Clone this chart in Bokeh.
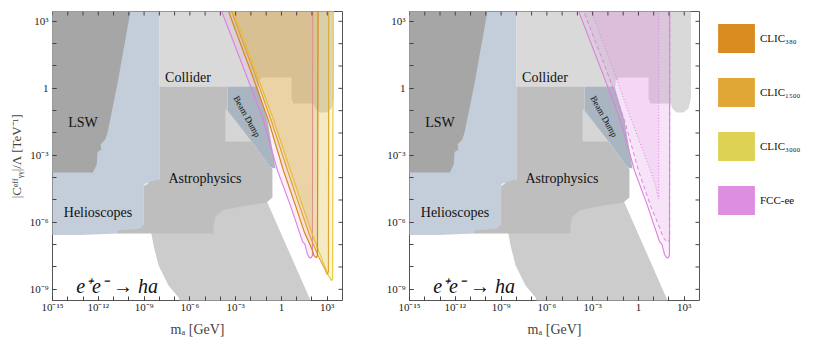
import numpy as np
from bokeh.plotting import figure
from bokeh.layouts import row
from bokeh.models import (Range1d, FixedTicker, CustomJSTickFormatter,
                          Legend, LegendItem)
from bokeh.core.properties import value
from bokeh.embed import file_html
from bokeh.resources import INLINE

# ---------------- data (log10 of m_a [GeV], log10 of |C|/Lambda [TeV^-1]) -------------
LSW_X = [-16, -9.75, -10.74, -11.40, -11.55, -11.85, -11.80, -12.05, -12.10, -12.35, -16]
LSW_Y = [4, 4, 0.22, -2.00, -2.30, -2.50, -2.75, -2.85, -3.40, -3.77, -3.77]

HELIO_X = [-16, -7.99, -7.99, -8.91, -9.04, -9.04, -9.37, -10.74, -13.17, -16]
HELIO_Y = [4, 4, -4.13, -4.26, -4.40, -6.19, -6.40, -6.50, -6.57, -6.57]

COLLIDER_X = [-7.99, 3.44, 3.44, 3.28, 2.95, 2.49, 2.23, 2.10, 0.79, 0.66, 0.66, -1.24, -1.50, -1.50, -7.99]
COLLIDER_Y = [4, 4, -0.46, -0.90, -1.08, -1.08, -0.90, -0.68, -0.68, -0.46, 0.48, 0.48, 0.35, 0.08, 0.08]

ASTRO_X = [-7.99, -3.53, -3.53, -1.90, -0.72, -0.59, -0.59, -0.98, -2.68, -3.86, -4.32, -4.45, -4.45,
           -10.74, -10.74, -9.23, -9.04, -9.04, -8.58, -7.99]
ASTRO_Y = [0.08, 0.08, -0.99, -2.43, -3.55, -3.59, -4.89, -5.11, -5.29, -5.47, -5.74, -6.14, -6.50,
           -6.50, -6.37, -6.28, -6.10, -4.40, -4.17, -4.08]

LOWER_X = [-8.58, -8.38, -8.05, -7.40, -6.74, -6.42, 2.23, -0.98, -4.32]
LOWER_Y = [-6.28, -7.04, -7.93, -8.83, -9.37, -10, -10, -5.02, -5.47]

BEAM_X = [-3.53, -1.57, -0.91, -0.39, -0.72, -1.90, -3.53]
BEAM_Y = [0.08, 0.08, -1.44, -3.59, -3.55, -2.43, -0.99]

TRI_X = [-3.67, -1.90, -3.67]
TRI_Y = [-0.90, -2.38, -2.38]

FCC_X = [-4.19, -2.42, -1.18, -0.26, 0.59, 1.25, 1.38, 1.54, 1.64, 1.71, 1.84, 1.94, 2.03, 2.05]
FCC_Y = [3.93, 0.80, -1.44, -3.68, -5.25, -6.59, -6.86, -6.99, -7.26, -7.44, -7.58, -7.60, -7.49, 3.93]

FCC_DASH_X = [-3.86, -2.09, -0.91, 0.00, 0.79, 1.25, 1.58, 1.71, 1.97, 2.05, 2.05]
FCC_DASH_Y = [3.93, 0.80, -1.44, -3.68, -5.25, -6.01, -6.59, -6.77, -6.88, -6.73, 3.93]

FCC_DOT_X = [-3.34, -1.63, -0.45, 0.79, 1.12, 1.25, 1.33, 1.33]
FCC_DOT_Y = [3.93, 0.80, -1.44, -3.68, -4.35, -4.80, -4.95, 3.93]

CLIC380_X = [-3.73, -2.03, -0.85, 0.13, 0.92, 1.51, 1.84, 2.03, 2.13, 2.28, 2.36, 2.40]
CLIC380_Y = [3.93, 0.80, -1.44, -3.68, -5.25, -6.46, -6.95, -7.26, -7.49, -7.58, -7.49, 3.93]

CLIC1500_X = [-3.53, -1.83, -0.67, 0.40, 1.18, 1.90, 2.43, 2.69, 2.89, 3.00, 3.08, 3.10]
CLIC1500_Y = [3.93, 0.80, -1.44, -3.68, -5.25, -6.68, -7.53, -7.89, -8.16, -8.34, -8.20, 3.93]

CLIC3000_X = [-3.40, -1.70, -0.50, 0.59, 1.38, 2.10, 2.56, 2.89, 3.08, 3.28, 3.35, 3.39]
CLIC3000_Y = [3.93, 0.80, -1.44, -3.68, -5.25, -6.68, -7.49, -8.07, -8.38, -8.61, -8.52, 3.93]

LABEL_TEXT = ["LSW", "Collider", "Beam Dump", "Astrophysics", "Helioscopes", "e\u207ae\u207b \u2192 ha"]
LABEL_X = [-13.0, -6.12, -2.26, -5.01, -12.02, -10.77]
LABEL_Y = [-1.53, 0.48, -1.26, -4.04, -5.58, -8.83]
LABEL_SIZE = ["14px", "14px", "9px", "14px", "14px", "20px"]
LABEL_ANGLE = [0, 0, -1.06, 0, 0, 0]
LABEL_STYLE = ["normal", "normal", "normal", "normal", "normal", "italic"]

LEGEND_NAMES = ["CLIC\u2083\u2088\u2080", "CLIC\u2081\u2085\u2080\u2080", "CLIC\u2083\u2080\u2080\u2080", "FCC-ee"]
LEGEND_COLORS = ["#DA8B20", "#E0A636", "#DDD254", "#DE8EE1"]

X_MAJOR = [1e-15, 1e-12, 1e-9, 1e-6, 1e-3, 1.0, 1e3]
X_MINOR = [10.0 ** k for k in range(-15, 4)]
Y_MAJOR = [1e-9, 1e-6, 1e-3, 1.0, 1e3]
Y_MINOR = [10.0 ** k for k in range(-9, 4)]
X_LIM = (1e-15, 1e4)
Y_LIM = (10 ** -9.5, 10 ** 3.44)

SERIF = "Liberation Serif"
FRAME_W, FRAME_H = 290, 289
TICK_PX = 4
TICK_COLOR = "#444444"

FMT = r"""
const e = Math.round(Math.log10(tick));
if (e === 0) { return "1"; }
const sup = {"-": "\u207b", "0": "\u2070", "1": "\u00b9", "2": "\u00b2", "3": "\u00b3",
             "4": "\u2074", "5": "\u2075", "6": "\u2076", "7": "\u2077", "8": "\u2078", "9": "\u2079"};
return "10" + String(e).split("").map(c => sup[c]).join("");
"""


def L(a):
    return list(10.0 ** np.array(a, dtype=float))


def style_axis(ax):
    ax.major_tick_in = TICK_PX
    ax.major_tick_out = 0
    ax.minor_tick_in = TICK_PX
    ax.minor_tick_out = 0
    ax.axis_line_color = None
    ax.major_tick_line_color = TICK_COLOR
    ax.minor_tick_line_color = TICK_COLOR
    ax.major_label_text_font = SERIF
    ax.major_label_text_font_size = "11px"
    ax.major_label_text_color = "#222222"


def make_panel(width, border_right, with_ylabel, kind):
    p = figure(width=width, height=342, x_axis_type="log", y_axis_type="log",
               x_range=Range1d(*X_LIM), y_range=Range1d(*Y_LIM),
               output_backend="svg", toolbar_location=None,
               min_border_left=52, min_border_right=border_right,
               min_border_top=11, min_border_bottom=42)
    p.title_location = None
    p.grid.visible = False
    p.outline_line_color = "#555555"
    p.outline_line_width = 1
    p.background_fill_color = "white"
    p.border_fill_color = "white"

    xa = p.xaxis[0]
    ya = p.yaxis[0]
    xa.ticker = FixedTicker(ticks=X_MAJOR, minor_ticks=X_MINOR)
    ya.ticker = FixedTicker(ticks=Y_MAJOR, minor_ticks=Y_MINOR)
    xa.formatter = CustomJSTickFormatter(code=FMT)
    ya.formatter = CustomJSTickFormatter(code=FMT)
    style_axis(xa)
    style_axis(ya)
    xa.major_label_standoff = 0
    ya.major_label_standoff = 4
    xa.axis_label = "m\u2090 [GeV]"
    xa.axis_label_text_font = SERIF
    xa.axis_label_text_font_size = "14px"
    xa.axis_label_text_font_style = "normal"
    xa.axis_label_standoff = 6
    if with_ylabel:
        ya.axis_label = "|C\u1d49\u1da0\u1da0\u1d67\u1d67|/\u039b [TeV\u207b\u00b9]"
        ya.axis_label_text_font = SERIF
        ya.axis_label_text_font_size = "13px"
        ya.axis_label_text_font_style = "normal"
        ya.axis_label_standoff = 3

    regions = [
        (LOWER_X, LOWER_Y, "#CCCCCC"),
        (HELIO_X, HELIO_Y, "#C3CEDA"),
        (LSW_X, LSW_Y, "#A6A6A6"),
        (COLLIDER_X, COLLIDER_Y, "#D9D9D9"),
        (ASTRO_X, ASTRO_Y, "#BEBEBE"),
        (TRI_X, TRI_Y, "#D5D5D5"),
        (BEAM_X, BEAM_Y, "#A9B5C0"),
    ]
    for xs, ys, c in regions:
        p.patch(L(xs), L(ys), fill_color=c, line_color=None)

    for t, x, y, s, a, st in zip(LABEL_TEXT, LABEL_X, LABEL_Y, LABEL_SIZE, LABEL_ANGLE, LABEL_STYLE):
        p.text(x=[10.0 ** x], y=[10.0 ** y], text=[t], angle=a,
               text_font=value(SERIF), text_font_size=value(s), text_font_style=st,
               text_align="center", text_baseline="middle", text_color="#111111")

    p.patch(L(FCC_X), L(FCC_Y), fill_color="#DE8EE0", fill_alpha=0.13,
            line_color="#DD80DE", line_width=1.1)
    if kind == "clic":
        bands = [
            (CLIC3000_X, CLIC3000_Y, "#DDD152", "#E6CE40", 0.2),
            (CLIC1500_X, CLIC1500_Y, "#E0A535", "#E2A535", 0.15),
            (CLIC380_X, CLIC380_Y, "#D98C1E", "#DA8715", 0.15),
        ]
        for xs, ys, fc, lc, fa in bands:
            p.patch(L(xs), L(ys), fill_color=fc, fill_alpha=fa, line_color=lc, line_width=1.2)
    else:
        p.patch(L(FCC_DASH_X), L(FCC_DASH_Y), fill_color="#DE8EE0", fill_alpha=0.13,
                line_color="#DD80DE", line_width=1.0, line_dash="4 3")
        p.patch(L(FCC_DOT_X), L(FCC_DOT_Y), fill_color="#DE8EE0", fill_alpha=0.13,
                line_color="#DD80DE", line_width=1.0, line_dash="1 2")

    # mirrored tick marks on the top and right edges of the frame (same tick values as the axes)
    dec_y = np.log10(Y_LIM[1] / Y_LIM[0]) / FRAME_H * TICK_PX
    dec_x = np.log10(X_LIM[1] / X_LIM[0]) / FRAME_W * TICK_PX
    p.segment(x0=X_MINOR, y0=[Y_LIM[1]] * len(X_MINOR), x1=X_MINOR,
              y1=[Y_LIM[1] / 10 ** dec_y] * len(X_MINOR), line_color=TICK_COLOR, line_width=1)
    p.segment(x0=[X_LIM[1]] * len(Y_MINOR), y0=Y_MINOR, x1=[X_LIM[1] / 10 ** dec_x] * len(Y_MINOR),
              y1=Y_MINOR, line_color=TICK_COLOR, line_width=1)
    return p


p1 = make_panel(357, 15, True, "clic")
p2 = make_panel(347, 5, False, "fcc")

# legend panel: borders match the chart panels so that the row keeps the frames aligned
p3 = figure(width=124, height=342, output_backend="svg", toolbar_location=None,
            x_range=Range1d(0, 1), y_range=Range1d(0, 1),
            min_border_left=0, min_border_top=11, min_border_right=0, min_border_bottom=42)
p3.title_location = None
p3.axis.visible = False
p3.grid.visible = False
p3.outline_line_color = None
items = []
for name, color in zip(LEGEND_NAMES, LEGEND_COLORS):
    r = p3.rect(x=[-10], y=[-10], width=1, height=1, fill_color=color, line_color=None)
    items.append(LegendItem(label=name, renderers=[r]))
legend = Legend(items=items, location="top_left", glyph_width=46, glyph_height=36,
                spacing=18, label_standoff=1, padding=0, margin=9,
                border_line_color=None, background_fill_alpha=0,
                label_text_font=SERIF, label_text_font_size="11px",
                label_text_color="#111111")
p3.add_layout(legend)

layout = row(p1, p2, p3)
with open("out.html", "w", encoding="utf-8") as f:
    f.write(file_html(layout, INLINE))
